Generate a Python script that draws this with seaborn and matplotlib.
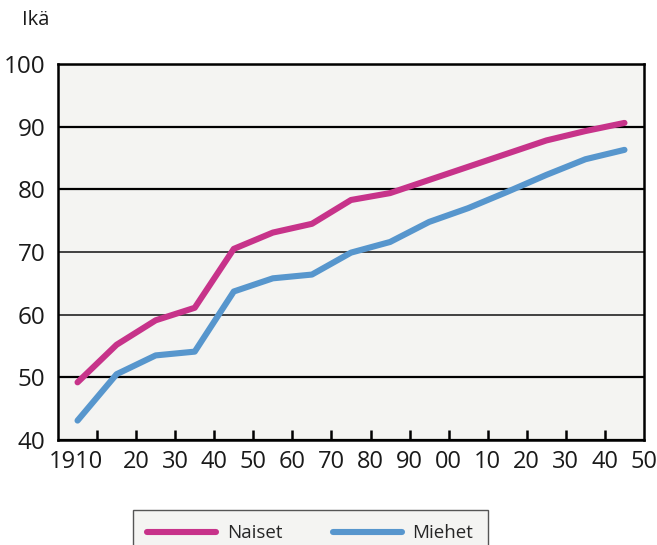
import matplotlib
matplotlib.use("Agg")
import matplotlib.pyplot as plt
import matplotlib.transforms as mtransforms
import seaborn as sns
import pandas as pd

# Life expectancy by decade (mid-decade points), actual and projected
years = [1905, 1915, 1925, 1935, 1945, 1955, 1965, 1975, 1985, 1995,
         2005, 2015, 2025, 2035, 2045]
naiset = [49.2, 55.2, 59.1, 61.1, 70.5, 73.1, 74.5, 78.3, 79.4, 81.5,
          83.6, 85.7, 87.8, 89.3, 90.6]
miehet = [43.1, 50.5, 53.5, 54.1, 63.7, 65.8, 66.4, 69.9, 71.6, 74.8,
          77.0, 79.6, 82.3, 84.8, 86.3]

series_names = ["Naiset", "Miehet"]
series_colors = ["#C7338A", "#5796CD"]

x_ticks = [1910, 1920, 1930, 1940, 1950, 1960, 1970, 1980, 1990, 2000,
           2010, 2020, 2030, 2040, 2050]
x_tick_labels = ["1910", "20", "30", "40", "50", "60", "70", "80", "90",
                 "00", "10", "20", "30", "40", "50"]
y_ticks = [40, 50, 60, 70, 80, 90, 100]

df = pd.DataFrame({
    "vuosi": years * 2,
    "ika": naiset + miehet,
    "sukupuoli": ["Naiset"] * len(years) + ["Miehet"] * len(years),
})

sns.set_style("white")
plt.rcParams["font.family"] = ["Open Sans", "DejaVu Sans"]

fig = plt.figure(figsize=(6.57, 5.45), dpi=100)
ax = fig.add_axes([58 / 657, 1 - 440 / 545, (644 - 58) / 657, (440 - 64) / 545])
ax.set_facecolor("#F4F4F2")

sns.lineplot(data=df, x="vuosi", y="ika", hue="sukupuoli",
             hue_order=series_names, palette=series_colors,
             linewidth=4.4, solid_capstyle="round", ax=ax, legend=False)

ax.set_xlim(1900, 2050)
ax.set_ylim(40, 100)
ax.set_xticks(x_ticks)
ax.set_xticklabels(x_tick_labels)
ax.set_yticks(y_ticks)
ax.set_yticklabels([str(v) for v in y_ticks])
ax.set_xlabel("")
ax.set_ylabel("")

# Horizontal reference lines
ax.yaxis.grid(True, color="black", linewidth=1.6, zorder=0)
ax.set_axisbelow(True)
for gl, val in zip(ax.get_ygridlines(), y_ticks):
    if val in (60, 70):
        gl.set_color("#333333")
        gl.set_linewidth(1.3)

for side in ["left", "right", "top", "bottom"]:
    ax.spines[side].set_visible(True)
    ax.spines[side].set_color("black")
    ax.spines[side].set_linewidth(1.8)

ax.tick_params(axis="x", direction="in", length=7, width=1.8, color="black",
               labelsize=17, pad=7, labelcolor="#1a1a1a")
ax.tick_params(axis="y", direction="in", length=0, labelsize=17.5, pad=9,
               labelcolor="#1a1a1a")
ax.tick_params(axis="x", which="both", bottom=True, top=False)
ax.xaxis.get_major_ticks()[-1].tick1line.set_visible(False)

# Century label shifted so its last two digits sit under the tick
first = ax.get_xticklabels()[0]
first.set_horizontalalignment("right")
first.set_transform(first.get_transform() +
                    mtransforms.ScaledTranslation(6 / 100, 0, fig.dpi_scale_trans))

fig.text(22 / 657, 1 - 10 / 545, "Ikä", fontsize=14.5, va="top", ha="left",
         color="#1a1a1a")

handles = [plt.Line2D([], [], color=c, linewidth=4.4) for c in series_colors]
leg = fig.legend(handles, series_names, loc="upper left",
                 bbox_to_anchor=(133 / 657, 1 - 510 / 545), ncol=2,
                 fontsize=13.5, frameon=True, fancybox=False,
                 handlelength=3.7, handletextpad=0.55, columnspacing=2.7,
                 borderpad=0.75, borderaxespad=0)
leg.get_frame().set_facecolor("#F4F4F2")
leg.get_frame().set_edgecolor("#555555")
leg.get_frame().set_linewidth(1.0)
leg.get_frame().set_alpha(1)

fig.savefig("out.png", dpi=100, facecolor="white")
